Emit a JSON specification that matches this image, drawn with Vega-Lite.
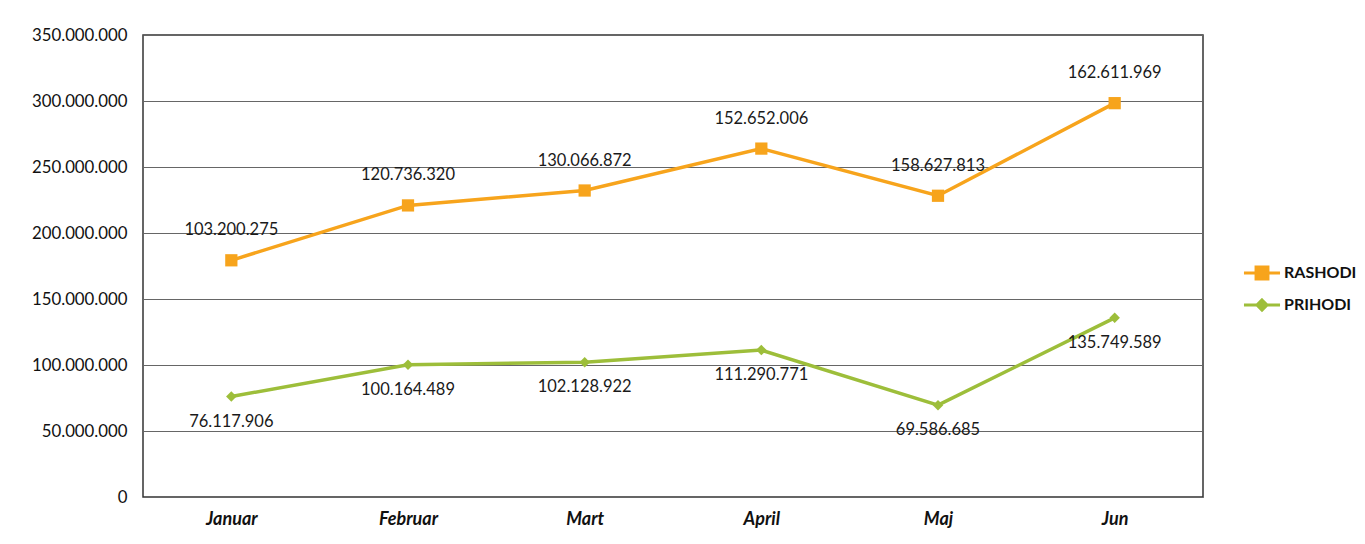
{
  "$schema": "https://vega.github.io/schema/vega-lite/v6.json",
  "width": 1060,
  "height": 462,
  "autosize": "none",
  "padding": {"left": 143, "top": 35, "right": 162, "bottom": 47},
  "background": "white",
  "config": {
    "locale": {"number": {"decimal": ",", "thousands": ".", "grouping": [3], "currency": ["", ""]}},
    "view": {"stroke": "#333", "strokeWidth": 1.5},
    "font": "Lato"
  },
  "data": {
    "values": [
      {"month": "Januar", "series": "RASHODI", "value": 103200275},
      {"month": "Februar", "series": "RASHODI", "value": 120736320},
      {"month": "Mart", "series": "RASHODI", "value": 130066872},
      {"month": "April", "series": "RASHODI", "value": 152652006},
      {"month": "Maj", "series": "RASHODI", "value": 158627813},
      {"month": "Jun", "series": "RASHODI", "value": 162611969},
      {"month": "Januar", "series": "PRIHODI", "value": 76117906},
      {"month": "Februar", "series": "PRIHODI", "value": 100164489},
      {"month": "Mart", "series": "PRIHODI", "value": 102128922},
      {"month": "April", "series": "PRIHODI", "value": 111290771},
      {"month": "Maj", "series": "PRIHODI", "value": 69586685},
      {"month": "Jun", "series": "PRIHODI", "value": 135749589}
    ]
  },
  "transform": [
    {"stack": "value", "groupby": ["month"], "sort": [{"field": "series", "order": "ascending"}], "as": ["v0", "v1"]}
  ],
  "encoding": {
    "x": {
      "field": "month", "type": "nominal",
      "sort": ["Januar", "Februar", "Mart", "April", "Maj", "Jun"],
      "scale": {"type": "point", "padding": 0.5},
      "axis": {"title": null, "labelAngle": 0, "ticks": false, "domain": false, "labelPadding": 13,
               "labelFont": "Lato", "labelFontSize": 18, "labelFontStyle": "italic", "labelFontWeight": "bold", "labelColor": "#111"}
    },
    "y": {
      "field": "v1", "type": "quantitative",
      "scale": {"domain": [0, 350000000]},
      "axis": {"title": null, "values": [0, 50000000, 100000000, 150000000, 200000000, 250000000, 300000000, 350000000],
               "format": ",d", "ticks": false, "domain": false, "labelPadding": 16,
               "labelFont": "Lato", "labelFontSize": 16.8, "labelColor": "#111",
               "gridColor": "#666", "gridWidth": 1, "gridOpacity": 1}
    },
    "color": {
      "field": "series", "type": "nominal",
      "scale": {"domain": ["RASHODI", "PRIHODI"], "range": ["#F7A41C", "#9DBE3A"]},
      "legend": {
        "title": null, "orient": "none", "legendX": 1099, "legendY": 218,
        "labelFont": "Lato", "labelFontSize": 16, "labelFontWeight": "bold", "labelColor": "#111",
        "rowPadding": 0, "symbolSize": 1300, "symbolStrokeWidth": 3, "labelOffset": 2,
        "encode": {"symbols": {"update": {
          "shape": {"signal": "datum.value === 'RASHODI' ? 'M-1,0H1M-0.33,-0.33H0.33V0.33H-0.33Z' : 'M-1,0H1M0,-0.28L0.28,0L0,0.28L-0.28,0Z'"},
          "size": {"value": 1300},
          "fill": {"signal": "scale('color', datum.value)"},
          "stroke": {"signal": "scale('color', datum.value)"},
          "strokeWidth": {"value": 3},
          "opacity": {"value": 1}
        }}}
      }
    }
  },
  "layer": [
    {"mark": {"type": "line", "strokeWidth": 3.5}},
    {
      "transform": [{"filter": "datum.series === 'RASHODI'"}],
      "mark": {"type": "point", "filled": true, "opacity": 1, "shape": "square", "size": 150}
    },
    {
      "transform": [{"filter": "datum.series === 'PRIHODI'"}],
      "mark": {"type": "point", "filled": true, "opacity": 1, "shape": "diamond", "size": 110}
    },
    {
      "transform": [{"filter": "datum.series === 'RASHODI'"}],
      "mark": {"type": "text", "dy": -30, "font": "Lato", "fontSize": 16.5, "color": "#1a1a1a"},
      "encoding": {"text": {"field": "value", "type": "quantitative", "format": ",d"}, "color": {"value": "#1a1a1a"}}
    },
    {
      "transform": [{"filter": "datum.series === 'PRIHODI'"}],
      "mark": {"type": "text", "dy": 25, "font": "Lato", "fontSize": 16.5, "color": "#1a1a1a"},
      "encoding": {"text": {"field": "value", "type": "quantitative", "format": ",d"}, "color": {"value": "#1a1a1a"}}
    }
  ]
}
